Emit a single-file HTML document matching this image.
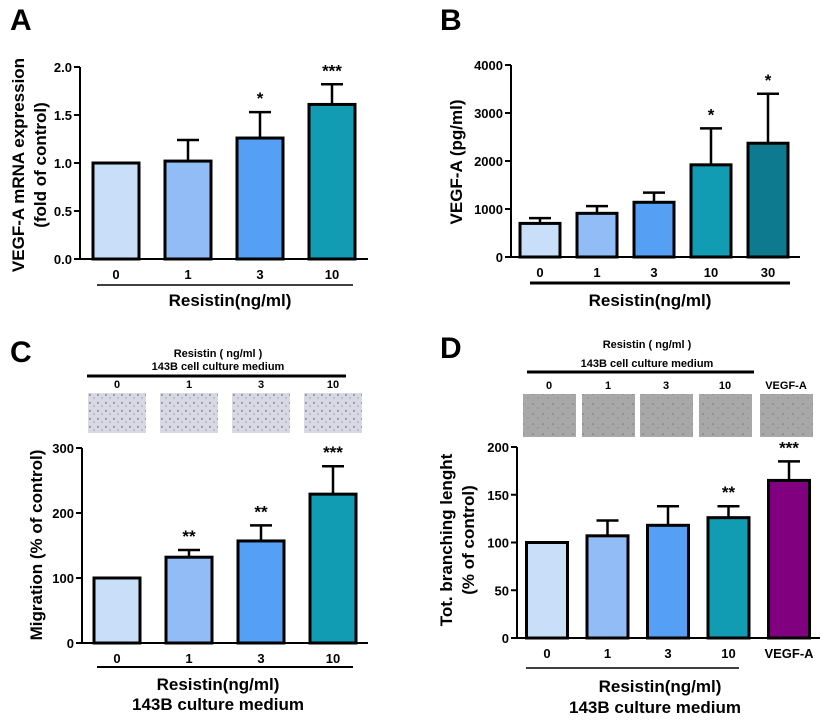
<!DOCTYPE html>
<html><head><meta charset="utf-8"><style>
body{margin:0;background:#fff}svg{display:block}
text{font-family:"Liberation Sans",sans-serif;font-weight:bold;fill:#000}
</style></head><body>
<svg id="fig" width="831" height="723" viewBox="0 0 831 723" xmlns="http://www.w3.org/2000/svg">
<defs>
<pattern id="cells" width="8" height="8" patternUnits="userSpaceOnUse"><rect width="8" height="8" fill="#d8d8e2"/><circle cx="2" cy="3" r="1" fill="#8a86b0"/><circle cx="6" cy="6" r="0.8" fill="#a09cc0"/></pattern>
<pattern id="tube" width="10" height="10" patternUnits="userSpaceOnUse"><rect width="10" height="10" fill="#a8a8a8"/><circle cx="3" cy="4" r="0.8" fill="#777"/><circle cx="8" cy="8" r="0.7" fill="#888"/></pattern>
</defs>
</svg>
<script>
// Panel A data
const catsA=["0","1","3","10"];
const valsA=[1.0,1.02,1.26,1.61];
const errA=[0,0.22,0.27,0.21];
const starsA=["","","*","***"];
const ticksA=["0.0","0.5","1.0","1.5","2.0"];
// Panel B data
const catsB=["0","1","3","10","30"];
const valsB=[700,910,1140,1920,2370];
const errB=[110,150,200,760,1030];
const starsB=["","","","*","*"];
const ticksB=["0","1000","2000","3000","4000"];
// Panel C data
const catsC=["0","1","3","10"];
const valsC=[100,132,157,229];
const errC=[0,11,24,43];
const starsC=["","**","**","***"];
const ticksC=["100","200","300"];
// Panel D data
const catsD=["0","1","3","10","VEGF-A"];
const valsD=[100,107,118,126,165];
const errD=[0,16,20,12,20];
const starsD=["","","","**","***"];
const ticksD=["0","50","100","150","200"];

const svg=document.getElementById('fig');
const NS="http://www.w3.org/2000/svg";
function mk(tag,attrs,parent){const e=document.createElementNS(NS,tag);for(const k in attrs)e.setAttribute(k,attrs[k]);(parent||svg).appendChild(e);return e;}
function txt(s,x,y,size,anchor,parent,rot){const t=mk('text',{x:x,y:y,'font-size':size,'text-anchor':anchor||'middle'},parent);if(rot)t.setAttribute('transform','rotate(-90 '+x+' '+y+')');t.textContent=s;return t;}

function chart(p){
  const g=mk('g',{});
  
  
  const y=v=>p.y0-(v-p.min)/(p.max-p.min)*(p.y0-p.y1);
  const xc=i=>p.x0+i*p.step;
  // axes
  const ya=mk('line',{x1:p.ax,y1:p.y1,x2:p.ax,y2:p.y0,stroke:'#000','stroke-width':2},g);
  
  const xa=mk('line',{x1:p.ax,y1:p.y0,x2:p.axEnd,y2:p.y0,stroke:'#000','stroke-width':2},g);
  
  p.ticks.forEach(t=>{const v=parseFloat(t);const yy=y(v);
    mk('line',{x1:p.ax-6,y1:yy,x2:p.ax,y2:yy,stroke:'#000','stroke-width':2},g);
    const tl=txt(t,p.ax-8,yy+5,13,'end',g);});
  p.cats.forEach((c,i)=>{
    const cx=xc(i),top=y(p.vals[i]),w=p.bw;
    if(p.errs[i]>0){const et=y(p.vals[i]+p.errs[i]);
      mk('line',{x1:cx,y1:top,x2:cx,y2:et,stroke:'#000','stroke-width':2.5},g);
      mk('line',{x1:cx-11,y1:et,x2:cx+11,y2:et,stroke:'#000','stroke-width':2.5},g);}
    const r=mk('rect',{x:cx-w/2,y:top,width:w,height:p.y0-top,fill:p.colors[i],stroke:'#000','stroke-width':3},g);
    
    
    if(p.stars[i]){const s=txt(p.stars[i],cx,y(p.vals[i]+p.errs[i])-8,17,'middle',g);s.setAttribute('font-weight','normal');}
    const cl=txt(c,cx,p.y0+20,13,'middle',g);
  });
}
const blues=["#c9def8","#92bcf5","#55a0f5","#119cb4"];
chart({name:'chart-a',ax:80,axEnd:368,y0:259,y1:67,min:0,max:2,x0:116,step:72,bw:46,cats:catsA,vals:valsA,errs:errA,stars:starsA,ticks:ticksA,colors:blues});
chart({name:'chart-b',ax:511,axEnd:800,y0:257,y1:65,min:0,max:4000,x0:540,step:57,bw:40,cats:catsB,vals:valsB,errs:errB,stars:starsB,ticks:ticksB,colors:["#c9def8","#92bcf5","#55a0f5","#119cb4","#0e7a90"]});
chart({name:'chart-c',ax:82,axEnd:368,y0:643,y1:448,min:0,max:300,x0:117,step:72,bw:46,cats:catsC,vals:valsC,errs:errC,stars:starsC,ticks:["0"].concat(ticksC),colors:blues});
chart({name:'chart-d',ax:517,axEnd:820,y0:638,y1:447,min:0,max:200,x0:547,step:60.5,bw:41,cats:catsD,vals:valsD,errs:errD,stars:starsD,ticks:ticksD,colors:["#c9def8","#92bcf5","#55a0f5","#119cb4","#800080"]});

// static labels
function lab(s,x,y,size,anchor,name,rot){const t=txt(s,x,y,size,anchor,null,rot);return t;}
function hl(x1,x2,y,w,name){const l=mk('line',{x1:x1,y1:y,x2:x2,y2:y,stroke:'#000','stroke-width':w});}
lab("A",10,30,30,'start','panel-label-a');
lab("B",440,30,30,'start','panel-label-b');
lab("C",10,362,30,'start','panel-label-c');
lab("D",440,358,30,'start','panel-label-d');
lab("VEGF-A mRNA expression",24,165,17,'middle','y-axis-title-a',true);
lab("(fold of control)",46,165,17,'middle','y-axis-subtitle-a',true);
hl(97,353,285,1.5,'group-line-a');
lab("Resistin(ng/ml)",230,306,17,'middle','x-axis-title-a');
lab("VEGF-A (pg/ml)",462,162,17,'middle','y-axis-title-b',true);
hl(530,790,283,3,'group-line-b');
lab("Resistin(ng/ml)",650,306,17,'middle','x-axis-title-b');
lab("Migration (% of control)",42,545,17,'middle','y-axis-title-c',true);
hl(97,353,667,2,'group-line-c');
lab("Resistin(ng/ml)",218,690,17,'middle','x-axis-title-c');
lab("143B culture medium",218,710,17,'middle','x-axis-subtitle-c');
lab("Resistin ( ng/ml )",218,357,11,'middle','header-c');
lab("143B cell culture medium",218,370,11,'middle','header-sub-c');
hl(87,346,376,3,'header-line-c');
["0","1","3","10"].forEach((c,i)=>{lab(c,117+i*72,388,11,'middle','image-label-c');
 const r=mk('rect',{x:88+i*72,y:393,width:58,height:40,fill:'url(#cells)'});});
lab("Tot. branching lenght",452,540,17,'middle','y-axis-title-d',true);
lab("(% of control)",474,540,17,'middle','y-axis-subtitle-d',true);
hl(526,739,668,1.5,'group-line-d');
lab("Resistin(ng/ml)",660,692,17,'middle','x-axis-title-d');
lab("143B culture medium",655,713,17,'middle','x-axis-subtitle-d');
lab("Resistin ( ng/ml )",647,348,11,'middle','header-d');
lab("143B cell culture medium",647,367,11,'middle','header-sub-d');
hl(527,754,372,3,'header-line-d');
["0","1","3","10","VEGF-A"].forEach((c,i)=>{const cx=[549,608,666,725,786][i];lab(c,cx,389,11,'middle','image-label-d');
 const r=mk('rect',{x:cx-26,y:394,width:53,height:43,fill:'url(#tube)'});});
</script>
</body></html>
